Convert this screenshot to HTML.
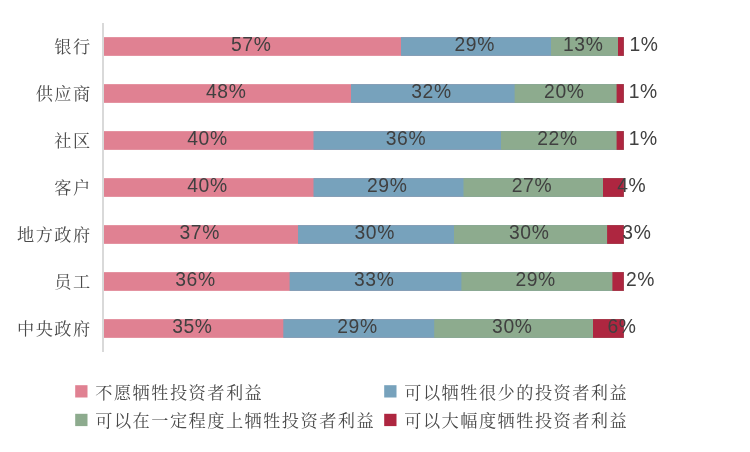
<!DOCTYPE html>
<html lang="zh-CN">
<head>
<meta charset="utf-8">
<title>chart</title>
<style>
html,body{margin:0;padding:0;background:#fff;}
body{width:750px;height:452px;overflow:hidden;}
svg{display:block;will-change:transform;}
.num{font-family:"Liberation Sans","Noto Sans CJK SC",sans-serif;font-size:19.3px;letter-spacing:0.6px;fill:#404040;text-anchor:middle;}
.cat{font-family:"Liberation Serif","Noto Serif CJK SC",serif;font-size:17.2px;letter-spacing:1.47px;fill:#4a4a4a;text-anchor:end;font-weight:400;}
.leg{font-family:"Liberation Serif","Noto Serif CJK SC",serif;font-size:17.2px;letter-spacing:1.47px;fill:#4a4a4a;text-anchor:start;font-weight:400;}
</style>
</head>
<body>
<svg width="750" height="452" viewBox="0 0 750 452">
<rect x="0" y="0" width="750" height="452" fill="#ffffff"/>
<rect x="104.00" y="37.15" width="519.80" height="18.70" fill="#E08192"/>
<rect x="401.00" y="37.15" width="222.80" height="18.70" fill="#77A2BC"/>
<rect x="551.00" y="37.15" width="72.80" height="18.70" fill="#8DAB8E"/>
<rect x="618.00" y="37.15" width="5.80" height="18.70" fill="#AE2640"/>
<rect x="104.00" y="84.15" width="519.80" height="18.70" fill="#E08192"/>
<rect x="351.00" y="84.15" width="272.80" height="18.70" fill="#77A2BC"/>
<rect x="514.60" y="84.15" width="109.20" height="18.70" fill="#8DAB8E"/>
<rect x="616.60" y="84.15" width="7.20" height="18.70" fill="#AE2640"/>
<rect x="104.00" y="131.15" width="519.80" height="18.70" fill="#E08192"/>
<rect x="313.50" y="131.15" width="310.30" height="18.70" fill="#77A2BC"/>
<rect x="501.00" y="131.15" width="122.80" height="18.70" fill="#8DAB8E"/>
<rect x="616.60" y="131.15" width="7.20" height="18.70" fill="#AE2640"/>
<rect x="104.00" y="178.15" width="519.80" height="18.70" fill="#E08192"/>
<rect x="313.50" y="178.15" width="310.30" height="18.70" fill="#77A2BC"/>
<rect x="463.50" y="178.15" width="160.30" height="18.70" fill="#8DAB8E"/>
<rect x="603.00" y="178.15" width="20.80" height="18.70" fill="#AE2640"/>
<rect x="104.00" y="225.15" width="519.80" height="18.70" fill="#E08192"/>
<rect x="298.00" y="225.15" width="325.80" height="18.70" fill="#77A2BC"/>
<rect x="454.00" y="225.15" width="169.80" height="18.70" fill="#8DAB8E"/>
<rect x="607.10" y="225.15" width="16.70" height="18.70" fill="#AE2640"/>
<rect x="104.00" y="272.15" width="519.80" height="18.70" fill="#E08192"/>
<rect x="289.60" y="272.15" width="334.20" height="18.70" fill="#77A2BC"/>
<rect x="461.40" y="272.15" width="162.40" height="18.70" fill="#8DAB8E"/>
<rect x="612.40" y="272.15" width="11.40" height="18.70" fill="#AE2640"/>
<rect x="104.00" y="319.15" width="519.80" height="18.70" fill="#E08192"/>
<rect x="283.30" y="319.15" width="340.50" height="18.70" fill="#77A2BC"/>
<rect x="434.20" y="319.15" width="189.60" height="18.70" fill="#8DAB8E"/>
<rect x="593.00" y="319.15" width="30.80" height="18.70" fill="#AE2640"/>
<rect x="102" y="23" width="2" height="329" fill="#D9D9D9"/>
<text class="num" x="251.20" y="50.80">57%</text>
<text class="num" x="474.70" y="50.80">29%</text>
<text class="num" x="583.20" y="50.80">13%</text>
<text class="num" x="644.00" y="50.80">1%</text>
<text class="cat" x="91.7" y="52.60">银行</text>
<text class="num" x="226.20" y="97.80">48%</text>
<text class="num" x="431.50" y="97.80">32%</text>
<text class="num" x="564.30" y="97.80">20%</text>
<text class="num" x="643.20" y="97.80">1%</text>
<text class="cat" x="91.7" y="99.60">供应商</text>
<text class="num" x="207.45" y="144.80">40%</text>
<text class="num" x="405.95" y="144.80">36%</text>
<text class="num" x="557.50" y="144.80">22%</text>
<text class="num" x="643.20" y="144.80">1%</text>
<text class="cat" x="91.7" y="146.60">社区</text>
<text class="num" x="207.45" y="191.80">40%</text>
<text class="num" x="387.20" y="191.80">29%</text>
<text class="num" x="531.95" y="191.80">27%</text>
<text class="num" x="631.70" y="191.80">4%</text>
<text class="cat" x="91.7" y="193.60">客户</text>
<text class="num" x="199.70" y="238.80">37%</text>
<text class="num" x="374.70" y="238.80">30%</text>
<text class="num" x="529.25" y="238.80">30%</text>
<text class="num" x="636.90" y="238.80">3%</text>
<text class="cat" x="91.7" y="240.60">地方政府</text>
<text class="num" x="195.50" y="285.80">36%</text>
<text class="num" x="374.20" y="285.80">33%</text>
<text class="num" x="535.60" y="285.80">29%</text>
<text class="num" x="640.60" y="285.80">2%</text>
<text class="cat" x="91.7" y="287.60">员工</text>
<text class="num" x="192.35" y="332.80">35%</text>
<text class="num" x="357.45" y="332.80">29%</text>
<text class="num" x="512.30" y="332.80">30%</text>
<text class="num" x="622.00" y="332.80">6%</text>
<text class="cat" x="91.7" y="334.60">中央政府</text>
<rect x="75.20" y="385.20" width="12.3" height="12.3" fill="#E08192"/>
<text class="leg" x="95.30" y="398.50">不愿牺牲投资者利益</text>
<rect x="384.20" y="385.20" width="12.3" height="12.3" fill="#77A2BC"/>
<text class="leg" x="404.30" y="398.50">可以牺牲很少的投资者利益</text>
<rect x="75.20" y="413.80" width="12.3" height="12.3" fill="#8DAB8E"/>
<text class="leg" x="95.30" y="427.10">可以在一定程度上牺牲投资者利益</text>
<rect x="384.20" y="413.80" width="12.3" height="12.3" fill="#AE2640"/>
<text class="leg" x="404.30" y="427.10">可以大幅度牺牲投资者利益</text>
</svg>
</body>
</html>
